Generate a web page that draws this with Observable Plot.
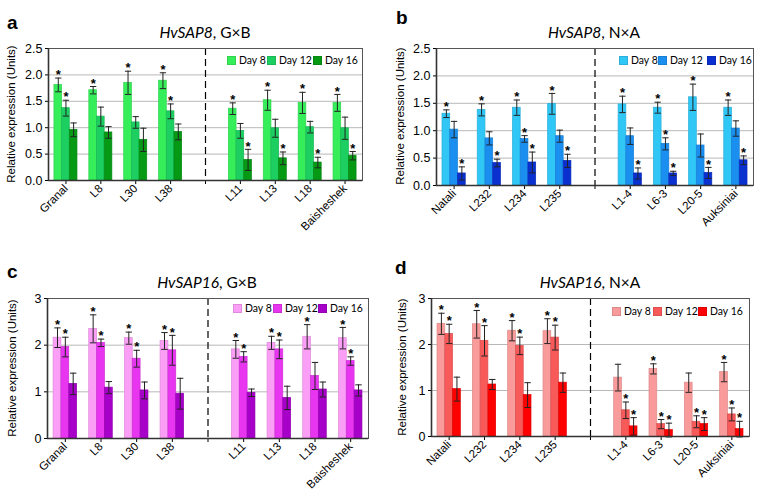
<!DOCTYPE html>
<html><head><meta charset="utf-8">
<script src="https://cdn.jsdelivr.net/npm/d3@7"></script>
<script src="https://cdn.jsdelivr.net/npm/@observablehq/plot@0.6"></script>
<style>
body{margin:0;background:#fff;}
#wrap{position:relative;width:761px;height:498px;overflow:hidden;font-family:"Liberation Sans",Arial,sans-serif;color:#000;}
.panel{position:absolute;}
.letter{position:absolute;font-weight:bold;font-size:19px;line-height:1;font-family:"Liberation Sans",Arial,sans-serif;}
.title{position:absolute;font-family:Lato,"Open Sans",sans-serif;font-size:15.5px;line-height:1;transform:translateX(-50%);white-space:nowrap;}
.ylab{position:absolute;font-family:"Liberation Sans",Arial,sans-serif;font-size:11.5px;line-height:1;white-space:nowrap;transform:translate(-50%,-50%) rotate(-90deg);}
.leg{position:absolute;display:flex;align-items:center;font-family:Lato,"Open Sans",sans-serif;font-size:12px;line-height:1;white-space:nowrap;}
.leg .sw{display:inline-block;width:9px;height:9px;margin-right:3px;box-sizing:border-box;}
.leg .tx{display:inline-block;transform:scaleX(0.87);transform-origin:0 50%;}
.panel svg [aria-label="y-axis tick label"], .panel svg [aria-label="y-axis"] text{font-size:12.5px;}
.panel svg [aria-label="x-axis tick label"], .panel svg [aria-label="x-axis"] text{font-size:11.5px;}
</style>
</head><body>
<div id="wrap"></div>
<script>
const days = ["Day 8", "Day 12", "Day 16"];
const linesGB = ["Granal", "L8", "L30", "L38", "L11", "L13", "L18", "Baisheshek"];
const linesNA = ["Natali", "L232", "L234", "L235", "L1-4", "L6-3", "L20-5", "Auksiniai"];
const yLabel = "Relative expression (Units)";

// Panel a: HvSAP8, G×B
const aDay8     = [1.81, 1.71, 1.85, 1.89, 1.36, 1.52, 1.47, 1.47];
const aDay8Err  = [0.13, 0.07, 0.22, 0.15, 0.11, 0.19, 0.20, 0.16];
const aDay12    = [1.37, 1.21, 1.10, 1.31, 0.94, 0.99, 1.01, 0.99];
const aDay12Err = [0.15, 0.18, 0.11, 0.14, 0.14, 0.17, 0.11, 0.21];
const aDay16    = [0.96, 0.91, 0.77, 0.92, 0.39, 0.42, 0.34, 0.47];
const aDay16Err = [0.13, 0.11, 0.22, 0.15, 0.20, 0.12, 0.10, 0.08];
const aSig8  = [1, 1, 1, 1, 1, 1, 1, 1];
const aSig12 = [1, 0, 0, 1, 0, 0, 0, 0];
const aSig16 = [0, 0, 0, 0, 1, 1, 1, 1];

// Panel b: HvSAP8, N×A
const bDay8     = [1.31, 1.38, 1.42, 1.49, 1.48, 1.42, 1.61, 1.42];
const bDay8Err  = [0.07, 0.11, 0.14, 0.19, 0.15, 0.10, 0.24, 0.14];
const bDay12    = [1.02, 0.86, 0.85, 0.90, 0.90, 0.76, 0.73, 1.04];
const bDay12Err = [0.15, 0.12, 0.06, 0.11, 0.15, 0.11, 0.21, 0.14];
const bDay16    = [0.22, 0.41, 0.42, 0.45, 0.22, 0.22, 0.23, 0.46];
const bDay16Err = [0.12, 0.07, 0.19, 0.12, 0.10, 0.04, 0.10, 0.08];
const bSig8  = [1, 1, 1, 1, 1, 1, 1, 1];
const bSig12 = [0, 0, 1, 0, 0, 1, 0, 0];
const bSig16 = [1, 1, 1, 1, 1, 1, 1, 1];

// Panel c: HvSAP16, G×B
const cDay8     = [2.16, 2.35, 2.15, 2.09, 1.91, 2.05, 2.18, 2.15];
const cDay8Err  = [0.21, 0.30, 0.13, 0.18, 0.19, 0.14, 0.26, 0.23];
const cDay12    = [1.96, 2.05, 1.71, 1.89, 1.75, 1.91, 1.34, 1.66];
const cDay12Err = [0.21, 0.08, 0.18, 0.32, 0.11, 0.20, 0.29, 0.09];
const cDay16    = [1.17, 1.09, 1.03, 0.96, 0.98, 0.87, 1.05, 1.03];
const cDay16Err = [0.23, 0.13, 0.18, 0.33, 0.08, 0.25, 0.16, 0.12];
const cSig8  = [1, 1, 1, 1, 1, 1, 1, 1];
const cSig12 = [1, 1, 1, 1, 1, 1, 0, 1];
const cSig16 = [0, 0, 0, 0, 0, 0, 0, 0];

// Panel d: HvSAP16, N×A
const dDay8     = [2.45, 2.44, 2.30, 2.29, 1.28, 1.47, 1.17, 1.40];
const dDay8Err  = [0.23, 0.30, 0.22, 0.27, 0.29, 0.11, 0.21, 0.21];
const dDay12    = [2.23, 2.08, 1.97, 2.15, 0.57, 0.27, 0.32, 0.48];
const dDay12Err = [0.21, 0.33, 0.19, 0.27, 0.18, 0.10, 0.13, 0.14];
const dDay16    = [1.03, 1.13, 0.90, 1.17, 0.22, 0.14, 0.27, 0.16];
const dDay16Err = [0.26, 0.11, 0.27, 0.21, 0.19, 0.15, 0.14, 0.17];
const dSig8  = [1, 1, 1, 1, 0, 1, 0, 1];
const dSig12 = [1, 1, 1, 1, 1, 1, 1, 1];
const dSig16 = [0, 0, 0, 0, 1, 1, 1, 1];

const colorsA = ["#36ee5a", "#1ccf60", "#069914"];
const colorsB = ["#30c6f6", "#1b8ff0", "#0a30d0"];
const colorsC = ["#fb9ef6", "#e835f0", "#a700c8"];
const colorsD = ["#f99b9b", "#f85a5a", "#ff0000"];

const wrap = document.getElementById("wrap");

function buildRows(lines, means, errs, sigs) {
  const rows = [];
  lines.forEach((name, g) => {
    const slot = g < 4 ? g : g + 1; // slot 4 is the gap with the dashed divider
    days.forEach((day, k) => {
      const x1 = slot - 0.33 + k * 0.22;
      rows.push({
        line: name, day, x1, x2: x1 + 0.22, xc: x1 + 0.11,
        mean: means[k][g], err: errs[k][g], sig: sigs[k][g] === 1
      });
    });
  });
  return rows;
}

function addDiv(cls, x, y, html) {
  const el = document.createElement("div");
  el.className = cls;
  el.style.left = x + "px";
  el.style.top = y + "px";
  el.innerHTML = html;
  wrap.appendChild(el);
  return el;
}

function panel(cfg) {
  const rows = buildRows(cfg.lines, cfg.means, cfg.errs, cfg.sigs);
  const slotLabels = [...cfg.lines.slice(0, 4), "", ...cfg.lines.slice(4)];
  const edge = cfg.colors.map(c => d3.color(c).darker(0.35).formatHex());
  const cap = 0.09;
  const chart = Plot.plot({
    width: cfg.width, height: cfg.height,
    marginLeft: cfg.ml, marginRight: cfg.mr, marginTop: cfg.mt, marginBottom: cfg.mb,
    style: {fontFamily: "'Liberation Sans', Arial, sans-serif", background: "transparent", color: "#000"},
    x: {domain: [-0.5, 8.5], ticks: d3.range(9), tickFormat: i => slotLabels[i], tickRotate: -45, tickSize: 4, tickPadding: 2, label: null},
    y: {domain: cfg.yDomain, ticks: cfg.yTicks, tickFormat: cfg.yFormat, tickSize: 3, tickPadding: 3, label: null},
    color: {domain: days, range: cfg.colors},
    marks: [
      Plot.ruleY(cfg.yTicks.slice(1), {stroke: "#b8b8b8", strokeWidth: 1}),
      Plot.rectY(rows, {x1: "x1", x2: "x2", y1: 0, y2: "mean", fill: "day", stroke: d => edge[days.indexOf(d.day)], strokeWidth: 0.7}),
      Plot.ruleX(rows, {x: "xc", y1: d => d.mean - d.err, y2: d => d.mean + d.err, stroke: "#222", strokeWidth: 1}),
      Plot.link(rows, {x1: d => d.xc - cap, x2: d => d.xc + cap, y1: d => d.mean + d.err, y2: d => d.mean + d.err, stroke: "#222", strokeWidth: 1}),
      Plot.link(rows, {x1: d => d.xc - cap, x2: d => d.xc + cap, y1: d => d.mean - d.err, y2: d => d.mean - d.err, stroke: "#222", strokeWidth: 1}),
      Plot.text(rows.filter(d => d.sig), {x: "xc", y: d => d.mean + d.err, text: () => "*", dy: -3, fontSize: 13, fontWeight: "bold", fill: "#000"}),
      Plot.ruleX([4], {stroke: "#000", strokeWidth: 1.2, strokeDasharray: "7,4"}),
      Plot.frame({stroke: "#555", strokeWidth: 1}),
      Plot.ruleY([cfg.yDomain[0]], {stroke: "#333", strokeWidth: 1.6}),
      Plot.ruleX([-0.5], {stroke: "#333", strokeWidth: 1.6})
    ]
  });
  const div = document.createElement("div");
  div.className = "panel";
  div.style.left = cfg.left + "px";
  div.style.top = cfg.top + "px";
  div.appendChild(chart);
  wrap.appendChild(div);

  addDiv("letter", cfg.letterX, cfg.letterY, cfg.letter);
  addDiv("title", cfg.titleX, cfg.titleY, `<i>${cfg.gene}</i>, ${cfg.cross}`);
  addDiv("ylab", cfg.ylabX, cfg.ylabY, yLabel);
  days.forEach((d, i) => {
    addDiv("leg", cfg.legX[i], cfg.legY,
      `<span class="sw" style="background:${cfg.colors[i]};border:0.7px solid ${edge[i]}"></span><span class="tx">${d}</span>`);
  });
}

panel({letter: "a", gene: "HvSAP8", cross: "G×B", lines: linesGB,
  means: [aDay8, aDay12, aDay16], errs: [aDay8Err, aDay12Err, aDay16Err], sigs: [aSig8, aSig12, aSig16],
  colors: colorsA, yDomain: [0, 2.5], yTicks: [0, 0.5, 1, 1.5, 2, 2.5], yFormat: d3.format(".1f"),
  left: 0, top: 0, width: 380, height: 249, ml: 48, mr: 18, mt: 48, mb: 69,
  letterX: 7, letterY: 13, titleX: 205, titleY: 25, ylabX: 12, ylabY: 114,
  legX: [227, 267, 313], legY: 54});

panel({letter: "b", gene: "HvSAP8", cross: "N×A", lines: linesNA,
  means: [bDay8, bDay12, bDay16], errs: [bDay8Err, bDay12Err, bDay16Err], sigs: [bSig8, bSig12, bSig16],
  colors: colorsB, yDomain: [0, 2.5], yTicks: [0, 0.5, 1, 1.5, 2, 2.5], yFormat: d3.format(".1f"),
  left: 380, top: 0, width: 381, height: 249, ml: 56, mr: 8, mt: 48, mb: 64,
  letterX: 396, letterY: 8, titleX: 594, titleY: 25, ylabX: 401, ylabY: 116,
  legX: [619, 658, 707], legY: 54});

panel({letter: "c", gene: "HvSAP16", cross: "G×B", lines: linesGB,
  means: [cDay8, cDay12, cDay16], errs: [cDay8Err, cDay12Err, cDay16Err], sigs: [cSig8, cSig12, cSig16],
  colors: colorsC, yDomain: [0, 3], yTicks: [0, 1, 2, 3], yFormat: d3.format("d"),
  left: 0, top: 249, width: 380, height: 249, ml: 47, mr: 12, mt: 49, mb: 60,
  letterX: 7, letterY: 262, titleX: 207, titleY: 275, ylabX: 13, ylabY: 368,
  legX: [233, 273, 318], legY: 302});

panel({letter: "d", gene: "HvSAP16", cross: "N×A", lines: linesNA,
  means: [dDay8, dDay12, dDay16], errs: [dDay8Err, dDay12Err, dDay16Err], sigs: [dSig8, dSig12, dSig16],
  colors: colorsD, yDomain: [0, 3], yTicks: [0, 1, 2, 3], yFormat: d3.format("d"),
  left: 380, top: 249, width: 381, height: 249, ml: 51, mr: 12, mt: 49, mb: 62,
  letterX: 395, letterY: 258, titleX: 590, titleY: 275, ylabX: 403, ylabY: 367,
  legX: [612, 653, 698], legY: 305});
</script>
</body></html>
